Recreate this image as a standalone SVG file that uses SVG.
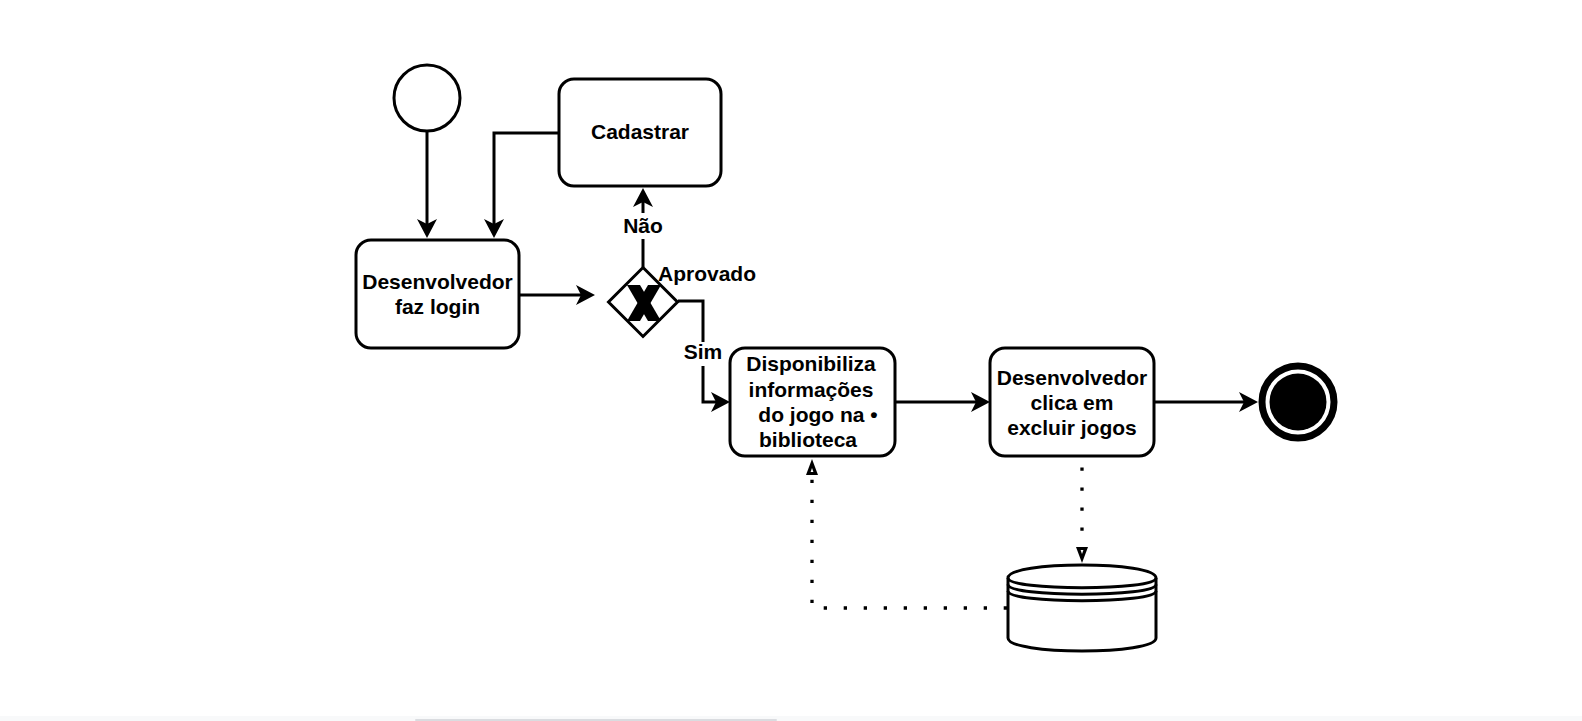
<svg xmlns="http://www.w3.org/2000/svg" width="1582" height="721" viewBox="0 0 1582 721">
<style>
.box{fill:#fff;stroke:#000;stroke-width:3}
.t{font-family:"Liberation Sans",Arial,sans-serif;font-size:21px;font-weight:bold;fill:#000;text-anchor:middle}
.e{fill:none;stroke:#000;stroke-width:3}
.d{fill:none;stroke:#000;stroke-width:3.3;stroke-dasharray:3.3 16.7}
.lbl{fill:#fff}
</style>
<defs>
<marker id="arr" markerUnits="userSpaceOnUse" markerWidth="20" markerHeight="20" viewBox="0 0 20 20" refX="7" refY="10" orient="auto" overflow="visible">
<path d="M0,0 L19,10 L0,20 L5,10 Z" fill="#000"/>
</marker>
<marker id="oarr" markerUnits="userSpaceOnUse" markerWidth="16" markerHeight="12" viewBox="0 0 16 12" refX="0" refY="6" orient="auto" overflow="visible">
<path d="M-1,0 L15,6 L-1,12 Z" fill="#000"/>
<path d="M2,4.6 L6,6 L2,7.4 Z" fill="#fff"/>
</marker>
</defs>
<rect width="1582" height="721" fill="#fff"/>

<g id="connectors">
<path class="e" d="M427,132 V226" marker-end="url(#arr)"/>
<path class="e" d="M559,133 H494 V226" marker-end="url(#arr)"/>
<path class="e" d="M519,295 H583" marker-end="url(#arr)"/>
<path class="e" d="M643,267 V200" marker-end="url(#arr)"/>
<path class="e" d="M678,301 H703 V402 H718" marker-end="url(#arr)"/>
<path class="e" d="M895,402 H978" marker-end="url(#arr)"/>
<path class="e" d="M1154,402 H1246" marker-end="url(#arr)"/>
<path class="d" d="M1082,457 V548" stroke-dashoffset="9.5" marker-end="url(#oarr)"/>
<path class="d" d="M1007,608 H812 V474" marker-end="url(#oarr)"/>
<rect class="lbl" x="621" y="213" width="44" height="26"/>
<text class="t" x="643" y="233">Não</text>
<rect class="lbl" x="683" y="342" width="40" height="24"/>
<text class="t" x="703" y="359">Sim</text>
<text class="t" x="658" y="281" style="text-anchor:start">Aprovado</text>
</g>

<g id="start">
<circle cx="427" cy="98" r="33" class="box"/>
</g>

<g id="cadastrar">
<rect x="559" y="79" width="162" height="107" rx="15" class="box"/>
<text class="t" x="640" y="139">Cadastrar</text>
</g>

<g id="login">
<rect x="356" y="240" width="163" height="108" rx="15" class="box"/>
<text class="t" x="437.5" y="288.5">Desenvolvedor</text>
<text class="t" x="437.5" y="314">faz login</text>
</g>

<g id="gateway">
<path d="M643,267.5 L677.5,302 L643,336.5 L608.5,302 Z" class="box"/>
<polygon points="627,285 640,285 661,321 648,321" fill="#000"/>
<polygon points="648,285 661,285 640,321 627,321" fill="#000"/>
</g>

<g id="disponibiliza">
<rect x="730" y="348" width="165" height="108" rx="15" class="box"/>
<text class="t" x="811" y="371">Disponibiliza</text>
<text class="t" x="811" y="396.5">informações</text>
<text class="t" x="818" y="422">do jogo na •</text>
<text class="t" x="808" y="447">biblioteca</text>
</g>

<g id="excluir">
<rect x="990" y="348" width="164" height="108" rx="15" class="box"/>
<text class="t" x="1072" y="384.5">Desenvolvedor</text>
<text class="t" x="1072" y="410">clica em</text>
<text class="t" x="1072" y="435">excluir jogos</text>
</g>

<g id="end">
<circle cx="1298" cy="402" r="36" fill="#fff" stroke="#000" stroke-width="7"/>
<circle cx="1298" cy="402" r="28.5" fill="#000"/>
</g>

<g id="datastore">
<path class="box" d="M1008,578 C1008,560.7 1156,560.7 1156,578 L1156,638 C1156,655.3 1008,655.3 1008,638 Z"/>
<path class="e" d="M1008,578 C1008,591 1156,591 1156,578"/>
<path class="e" d="M1008,584.5 C1008,597.5 1156,597.5 1156,584.5"/>
<path class="e" d="M1008,591 C1008,604 1156,604 1156,591"/>
</g>

<rect x="0" y="716" width="1582" height="5" fill="#f8f9fa"/>
<rect x="415" y="719" width="362" height="2" rx="1" fill="#dadce0"/>
</svg>
